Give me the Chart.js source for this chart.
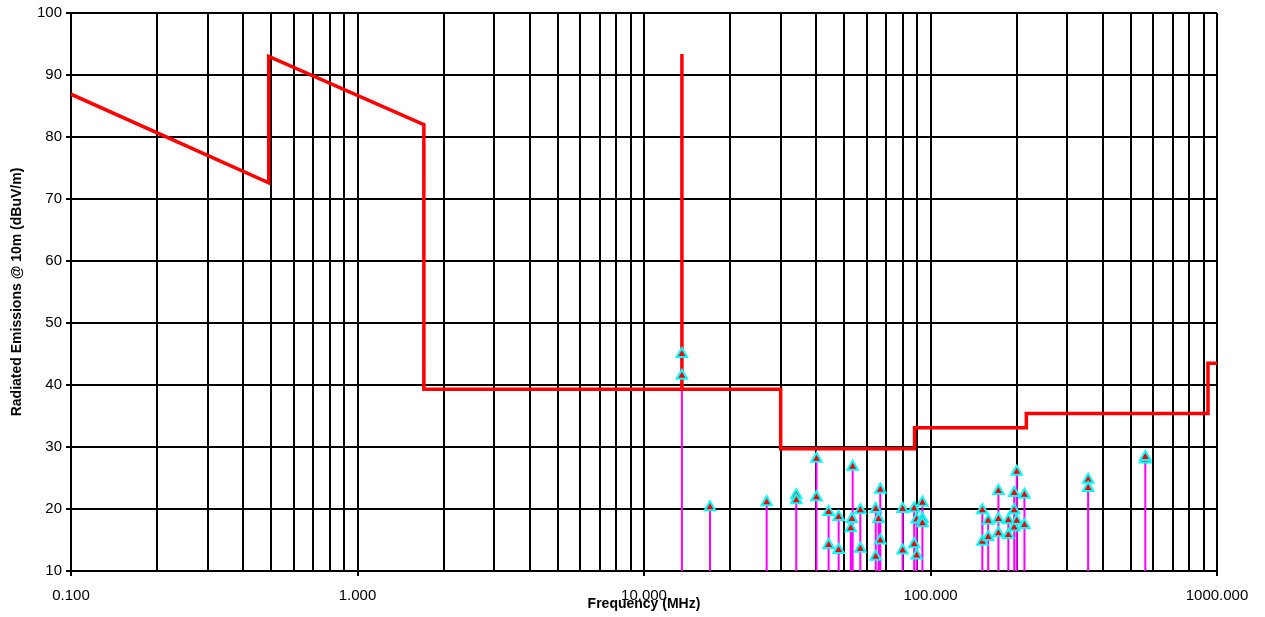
<!DOCTYPE html>
<html>
<head>
<meta charset="utf-8">
<script src="https://cdn.jsdelivr.net/npm/chart.js@4/dist/chart.umd.min.js"></script>
<style>
    body { margin: 0; background: #fff; }
    canvas { display: block; }
</style>
</head>
<body>
<canvas id="chart" width="1265" height="617"></canvas>
<script>
// limit line (MHz, dBuV/m)
const limitFreq = [0.1, 0.49, 0.49, 1.705, 1.705, 13.553, 13.553, 13.567, 13.567, 30, 30, 88, 88, 216, 216, 930, 930, 1000];
const limitLevel = [86.9, 72.6, 93.0, 82.0, 39.3, 39.3, 93.4, 93.4, 39.3, 39.3, 29.7, 29.7, 33.1, 33.1, 35.4, 35.4, 43.5, 43.5];

// measured emissions
const emisFreq = [
    13.56, 13.56, 17.0, 26.8, 34.0, 34.0, 40.0, 40.0, 44.1, 44.1,
    47.8, 47.8, 53.5, 53.2, 52.7, 56.9, 56.9, 64.4, 64.4, 65.9,
    66.8, 66.8, 79.9, 79.9, 87.7, 87.7, 89.5, 89.5, 93.7, 93.7,
    93.7, 151.7, 151.7, 159, 159, 172.6, 172.6, 172.6, 187, 187,
    196, 196, 196, 200, 200, 212.8, 212.8, 355, 355, 562,
    562
];
const emisLevel = [
    45.0, 41.5, 20.3, 21.1, 22.2, 21.4, 28.1, 21.9, 19.5, 14.2,
    18.7, 13.4, 26.8, 18.4, 16.9, 19.8, 13.6, 20.0, 12.3, 18.4,
    23.1, 14.9, 20.0, 13.3, 20.1, 14.3, 18.3, 12.5, 21.0, 18.4,
    17.7, 19.8, 14.7, 18.1, 15.5, 22.9, 18.4, 16.1, 18.2, 15.8,
    22.6, 19.8, 17.0, 26.0, 18.1, 22.3, 17.4, 24.7, 23.4, 28.0,
    28.4
];

const decades = [0.1, 1, 10, 100, 1000];
const xTickLabels = ["0.100", "1.000", "10.000", "100.000", "1000.000"];
const yMin = 10, yMax = 100, yStep = 10;

const limitData = limitFreq.map((f, i) => ({ x: f, y: limitLevel[i] }));
const pointData = emisFreq.map((f, i) => ({ x: f, y: emisLevel[i] }));

// stems: floor -> level, null breaks the line
const stemData = [];
emisFreq.forEach((f, i) => {
    stemData.push({ x: f, y: yMin }, { x: f, y: emisLevel[i] }, { x: f, y: null });
});

Chart.defaults.font.family = '"Liberation Sans", Arial, sans-serif';
Chart.defaults.color = '#000';

new Chart(document.querySelector("#chart").getContext("2d"), {
    type: "scatter",
    data: {
        datasets: [
            {
                data: pointData,
                pointStyle: "triangle",
                pointRadius: 6,
                pointBackgroundColor: "#ff0000",
                pointBorderColor: "#00ffff",
                pointBorderWidth: 2,
                order: 1
            },
            {
                data: limitData,
                showLine: true,
                borderColor: "#ff0000",
                borderWidth: 3.5,
                pointRadius: 0,
                order: 2
            },
            {
                data: stemData,
                showLine: true,
                spanGaps: false,
                borderColor: "#ff00ff",
                borderWidth: 2,
                pointRadius: 0,
                order: 3
            }
        ]
    },
    options: {
        responsive: false,
        animation: false,
        layout: { padding: { top: 11, right: 48, left: 0, bottom: 0 } },
        plugins: { legend: { display: false }, tooltip: { enabled: false } },
        scales: {
            x: {
                type: "logarithmic",
                min: decades[0],
                max: decades[decades.length - 1],
                afterBuildTicks: (scale) => {
                    const ticks = [];
                    for (let i = 0; i < decades.length - 1; i++) {
                        for (let m = 1; m < 10; m++) {
                            ticks.push({ value: decades[i] * m, major: m === 1 });
                        }
                    }
                    ticks.push({ value: decades[decades.length - 1], major: true });
                    scale.ticks = ticks;
                },
                afterFit: (scale) => { scale.height = 46; },
                ticks: {
                    autoSkip: false,
                    maxRotation: 0,
                    padding: 11,
                    font: { size: 15 },
                    callback: (value) => {
                        const i = decades.indexOf(value);
                        return i >= 0 ? xTickLabels[i] : "";
                    }
                },
                grid: {
                    color: "#000",
                    lineWidth: 2,
                    tickLength: 5,
                    tickColor: (ctx) => (ctx.tick && ctx.tick.major ? "#000" : "rgba(0,0,0,0)")
                },
                border: { color: "#000", width: 2 },
                title: {
                    display: true,
                    text: "Frequency (MHz)",
                    font: { size: 14, weight: "bold" },
                    padding: { top: 0, bottom: 4 }
                }
            },
            y: {
                min: yMin,
                max: yMax,
                afterFit: (scale) => { scale.width = 71; },
                ticks: { stepSize: yStep, padding: 4, font: { size: 15 } },
                grid: { color: "#000", lineWidth: 2, tickLength: 5 },
                border: { color: "#000", width: 2 },
                title: {
                    display: true,
                    text: "Radiated Emissions @ 10m (dBuV/m)",
                    font: { size: 14, weight: "bold" },
                    padding: { top: 9, bottom: 0 }
                }
            }
        }
    }
})
</script>
</body>
</html>
